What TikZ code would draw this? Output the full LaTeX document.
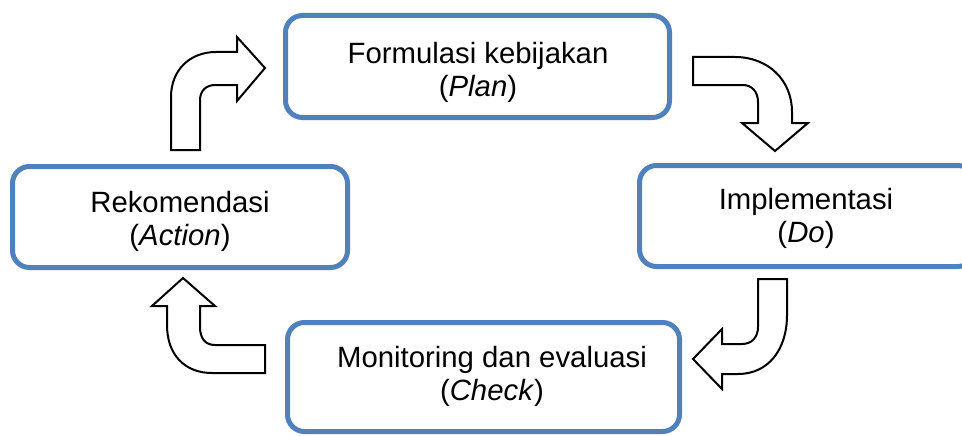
\documentclass[tikz,border=0pt]{standalone}
\usepackage{fontspec}
\setmainfont{Liberation Sans}
\definecolor{boxblue}{HTML}{4F81BD}
\begin{document}
\begin{tikzpicture}[x=0.75pt,y=-0.75pt,
  pdcabox/.style={draw=boxblue, line width=3.75pt, rounded corners=12.75pt, fill=white, inner sep=0pt},
  pdcatext/.style={align=center, inner sep=0pt, font=\fontsize{22}{24.75}\selectfont},
  blockarrow/.style={draw=black, fill=white, line width=1.5pt, line join=miter}]
\clip (0,0) rectangle (962,435);
\fill[white] (0,0) rectangle (962,435);
% boxes
\node[pdcabox, minimum width=288pt, minimum height=76.5pt] (plan) at (477.5,66.5) {};
\node[pdcabox, minimum width=251.25pt, minimum height=75.75pt] (act) at (180,217) {};
\node[pdcabox, minimum width=251.6pt, minimum height=75.75pt] (do) at (807.25,216) {};
\node[pdcabox, minimum width=294pt, minimum height=81.75pt] (check) at (483.5,377) {};
% texts
\node[pdcatext] (plant) at (478,72) {Formulasi kebijakan\\(\textit{Plan})};
\node[pdcatext] (actt) at (180,221) {Rekomendasi\\(\textit{Action})};
\node[pdcatext] (dot) at (806,218) {Implementasi\\(\textit{Do})};
\node[pdcatext] (checkt) at (492,376) {Monitoring dan evaluasi\\(\textit{Check})};
% block arrows
\draw[blockarrow] (171,150) -- (171,97) .. controls (171,70) and (190,52) .. (216,52) -- (237,52) -- (237,37) -- (265,68) -- (237,101) -- (237,85) -- (215,85) .. controls (206,85) and (200,91) .. (200,100) -- (200,150) -- cycle;
\draw[blockarrow] (693,57) -- (735,57) .. controls (768,57) and (792,80) .. (792,112) -- (792,123) -- (808,123) -- (775,151) -- (742,123) -- (758,123) -- (758,102) .. controls (758,92) and (752,85) .. (743,85) -- (693,85) -- cycle;
\draw[blockarrow] (758,279) -- (787,279) -- (787,315) .. controls (787,350) and (768,374) .. (738,374) -- (722,374) -- (722,389) -- (693,359) -- (722,329) -- (722,344) -- (742,344) .. controls (752,344) and (758,337) .. (758,327) -- cycle;
\draw[blockarrow] (183,278) -- (215,306) -- (200,306) -- (200,327) .. controls (200,338) and (205,345) .. (215,345) -- (265,345) -- (265,373) -- (212,373) .. controls (185,373) and (167,355) .. (167,325) -- (167,306) -- (152,306) -- cycle;
\end{tikzpicture}
\end{document}
